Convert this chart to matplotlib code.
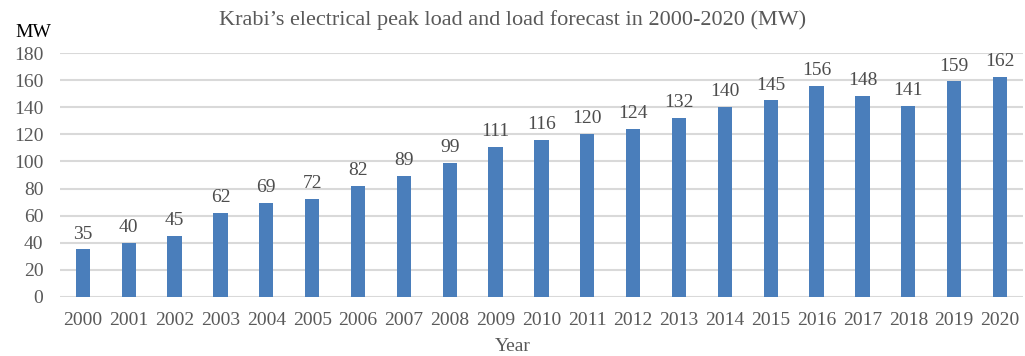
import matplotlib.pyplot as plt

years = [str(y) for y in range(2000, 2021)]
peak_load = [35, 40, 45, 62, 69, 72, 82, 89, 99, 111, 116, 120, 124, 132, 140, 145, 156, 148, 141, 159, 162]

plt.rcParams["font.family"] = ["Liberation Serif", "DejaVu Serif"]

GREY = "#595959"

fig = plt.figure(figsize=(10.25, 3.56), dpi=100)
ax = fig.add_axes([0.0585, 0.166, 0.9395, 0.685])

x = range(len(years))
bars = ax.bar(x, peak_load, width=0.31, color="#4a7ebb", zorder=3)
for xi, v in zip(x, peak_load):
    ax.annotate(str(v), (xi, v), xytext=(0, 5), textcoords="offset points",
                ha="center", va="bottom", fontsize=14, color="#4d4d4d")

ax.set_xlim(-0.5, len(years) - 0.5)
ax.set_ylim(0, 180)
ax.set_yticks(range(0, 181, 20))
ax.set_xticks(list(x))
ax.set_xticklabels(years)
ax.tick_params(axis="both", length=0, labelsize=14, colors=GREY)
ax.tick_params(axis="x", pad=11)
ax.tick_params(axis="y", pad=12)
ax.grid(axis="y", color="#d9d9d9", linewidth=1.5, zorder=0)
for s in ax.spines.values():
    s.set_visible(False)

fig.text(0.5, 0.943, "Krabi\u2019s electrical peak load and load forecast in 2000-2020 (MW)",
         ha="center", va="center", fontsize=16, color=GREY)
fig.text(0.015, 0.91, "MW", ha="left", va="center", fontsize=14, color="black")
fig.text(0.5, 0.028, "Year", ha="center", va="center", fontsize=14, color=GREY)

fig.savefig("out.png", dpi=100)
